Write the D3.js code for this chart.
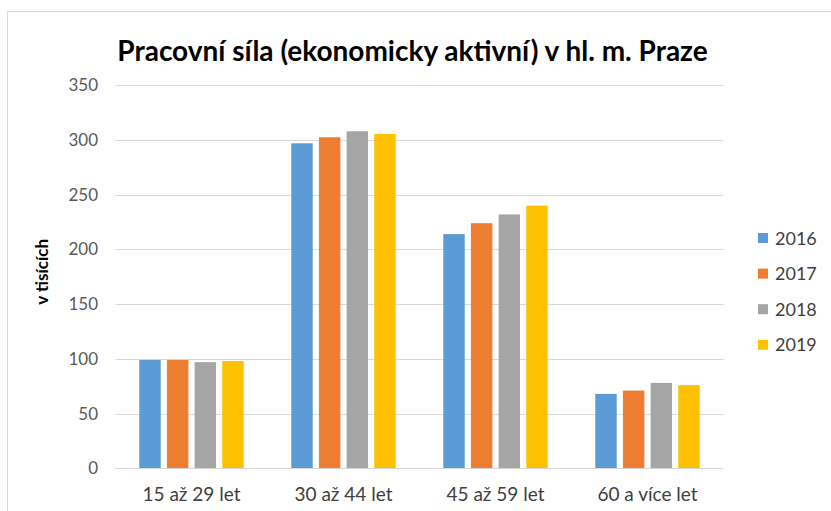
<!DOCTYPE html>
<html>
<head>
<meta charset="utf-8">
<script src="https://cdn.jsdelivr.net/npm/d3@7"></script>
<style>
  body { margin: 0; background: #fff; }
  svg { display: block; font-family: Lato, "Open Sans", sans-serif; }
</style>
</head>
<body>
<div class="chart"><svg width="831" height="511"></svg></div>
<script>
const categories = ['15 až 29 let', '30 až 44 let', '45 až 59 let', '60 a více let'];
const years = ['2016', '2017', '2018', '2019'];
const colors = ['#5B9BD5', '#ED7D31', '#A5A5A5', '#FFC000'];
const values2016 = [99, 297, 214, 68];
const values2017 = [99, 302.5, 224, 71];
const values2018 = [97, 308, 232, 78];
const values2019 = [98, 305.5, 240, 76];
const yTicks = [0, 50, 100, 150, 200, 250, 300, 350];

const series = [values2016, values2017, values2018, values2019];

const svg = d3.select('.chart svg');

// chart frame (Excel style, runs off the right / bottom edge)
svg.append('rect')
  .attr('x', 7.5).attr('y', 11.5)
  .attr('width', 840).attr('height', 520)
  .attr('fill', 'none')
  .attr('stroke', '#d9d9d9');

const plot = { left: 115.5, right: 723.5, top: 85.3, bottom: 468.3 };

const x0 = d3.scaleBand()
  .domain(categories)
  .range([plot.left, plot.right])
  .paddingInner(0.313)
  .paddingOuter(0.1565);

const x1 = d3.scaleBand()
  .domain(years)
  .range([0, x0.bandwidth()])
  .paddingInner(0.225);

const y = d3.scaleLinear()
  .domain([0, 350])
  .range([plot.bottom, plot.top]);

const color = d3.scaleOrdinal().domain(years).range(colors);

// gridlines
svg.append('g')
  .attr('class', 'grid')
  .selectAll('line')
  .data(yTicks)
  .enter().append('line')
  .attr('x1', plot.left).attr('x2', plot.right)
  .attr('y1', d => Math.round(y(d)) + 0.5)
  .attr('y2', d => Math.round(y(d)) + 0.5)
  .attr('stroke', '#d9d9d9')
  .attr('stroke-width', 1);

// y tick labels
svg.append('g')
  .attr('class', 'yLabels')
  .selectAll('text')
  .data(yTicks)
  .enter().append('text')
  .text(d => d)
  .attr('x', 98)
  .attr('y', d => y(d) + 6)
  .attr('text-anchor', 'end')
  .attr('fill', '#595959')
  .style('font-size', '17px');

// bars
const rows = categories.map((c, i) => ({
  category: c,
  values: years.map((yr, j) => ({ year: yr, value: series[j][i] }))
}));

svg.append('g')
  .attr('class', 'bars')
  .selectAll('g')
  .data(rows)
  .enter().append('g')
  .attr('transform', d => 'translate(' + x0(d.category) + ',0)')
  .selectAll('rect')
  .data(d => d.values)
  .enter().append('rect')
  .attr('x', d => x1(d.year))
  .attr('width', x1.bandwidth())
  .attr('y', d => y(d.value))
  .attr('height', d => y(0) - y(d.value))
  .attr('fill', d => color(d.year));

// axis line on top of bars
svg.append('line')
  .attr('x1', plot.left).attr('x2', plot.right)
  .attr('y1', Math.round(y(0)) + 0.5).attr('y2', Math.round(y(0)) + 0.5)
  .attr('stroke', '#d9d9d9');

// category labels
svg.append('g')
  .attr('class', 'xLabels')
  .selectAll('text')
  .data(categories)
  .enter().append('text')
  .text(d => d)
  .attr('x', d => x0(d) + x0.bandwidth() / 2)
  .attr('y', 501)
  .attr('text-anchor', 'middle')
  .attr('fill', '#404040')
  .style('font-size', '19px');

// y axis title
svg.append('text')
  .text('v tisících')
  .attr('transform', 'translate(48,' + ((plot.top + plot.bottom) / 2 - 5) + ') rotate(-90)')
  .attr('text-anchor', 'middle')
  .attr('fill', '#000')
  .style('font-size', '17px')
  .style('font-weight', 'bold');

// title
svg.append('text')
  .text('Pracovní síla (ekonomicky aktivní) v hl. m. Praze')
  .attr('x', 412.5)
  .attr('y', 61)
  .attr('text-anchor', 'middle')
  .attr('fill', '#000')
  .style('font-size', '28px')
  .style('font-weight', 'bold');

// legend
const legend = svg.append('g')
  .attr('class', 'legend')
  .selectAll('g')
  .data(years)
  .enter().append('g')
  .attr('transform', (d, i) => 'translate(758,' + (238 + i * 35.6) + ')');

legend.append('rect')
  .attr('x', 0).attr('y', -5)
  .attr('width', 10).attr('height', 10)
  .attr('fill', d => color(d));

legend.append('text')
  .text(d => d)
  .attr('x', 17)
  .attr('y', 6.5)
  .attr('fill', '#404040')
  .style('font-size', '18px');
</script>
</body>
</html>
